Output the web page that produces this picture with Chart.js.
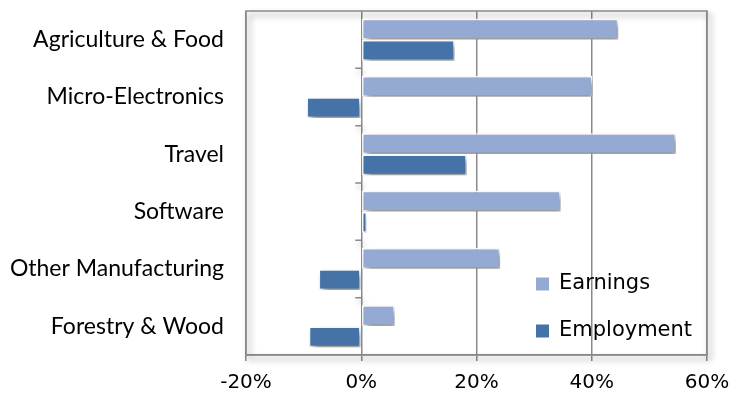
<!DOCTYPE html>
<html>
<head>
<meta charset="utf-8">
<script src="https://cdn.jsdelivr.net/npm/chart.js@4"></script>
<style>
  html, body { margin: 0; padding: 0; background: #fff; }
  #wrap { width: 732px; height: 398px; }
</style>
</head>
<body>
<div id="wrap"><canvas id="growthChart" width="732" height="398"></canvas></div>
<script>
const sectors = ["Agriculture & Food", "Micro-Electronics", "Travel", "Software", "Other Manufacturing", "Forestry & Wood"];
const earnings = [44.6, 40.1, 54.6, 34.6, 24.1, 5.8];
const employment = [16.2, -9.5, 18.3, 1.0, -7.4, -9.1];
const xTicks = [-20, 0, 20, 40, 60];

const axisGray = "#8a8a8a";

// drop shadow behind the bars
const barShadow = {
  id: "barShadow",
  beforeDatasetsDraw(chart) {
    const ctx = chart.ctx;
    ctx.save();
    ctx.shadowColor = "rgba(0,0,0,0.45)";
    ctx.shadowBlur = 6;
    ctx.shadowOffsetX = 3;
    ctx.shadowOffsetY = 4;
  },
  afterDatasetsDraw(chart) {
    chart.ctx.restore();
  }
};

// plot frame, category ticks on the zero line, and the legend
const frame = {
  id: "frame",
  beforeDatasetsDraw(chart) {
    const { ctx, chartArea: a, scales } = chart;
    ctx.save();
    ctx.strokeStyle = axisGray;
    ctx.lineWidth = 1.5;
    ctx.strokeRect(a.left, a.top, a.right - a.left, a.bottom - a.top);
    const x0 = scales.x.getPixelForValue(0);
    ctx.beginPath();
    for (let i = 1; i < sectors.length; i++) {
      const y = (scales.y.getPixelForValue(i - 1) + scales.y.getPixelForValue(i)) / 2;
      ctx.moveTo(x0 - 6, y);
      ctx.lineTo(x0, y);
    }
    ctx.stroke();
    ctx.restore();
  },
  afterDraw(chart) {
    const ctx = chart.ctx;
    ctx.save();
    ctx.font = "21px 'DejaVu Sans'";
    ctx.textBaseline = "middle";
    chart.data.datasets.forEach((ds, i) => {
      const cy = 284 + i * 47;
      ctx.fillStyle = ds.backgroundColor;
      ctx.fillRect(536, cy - 6.5, 13, 13);
      ctx.fillStyle = "#000";
      ctx.fillText(ds.label, 559, cy);
    });
    ctx.restore();
  }
};

new Chart(document.getElementById("growthChart"), {
  type: "bar",
  data: {
    labels: sectors,
    datasets: [
      {
        label: "Earnings",
        data: earnings,
        backgroundColor: "#94AAD2",
        borderColor: "#ffffff",
        borderWidth: 1.5,
        borderSkipped: false
      },
      {
        label: "Employment",
        data: employment,
        backgroundColor: "#4572A7",
        borderColor: "#ffffff",
        borderWidth: 1.5,
        borderSkipped: false
      }
    ]
  },
  options: {
    indexAxis: "y",
    responsive: false,
    animation: false,
    layout: { padding: { top: 11, right: 25, left: 0, bottom: 0 } },
    datasets: { bar: { categoryPercentage: 0.74, barPercentage: 0.98 } },
    plugins: {
      legend: { display: false },
      tooltip: { enabled: false }
    },
    scales: {
      x: {
        min: -20,
        max: 60,
        afterBuildTicks(scale) {
          scale.ticks = xTicks.map(v => ({ value: v }));
        },
        afterFit(scale) {
          scale.height = 43;
          scale.paddingLeft = 0;
          scale.paddingRight = 0;
        },
        grid: { color: axisGray, lineWidth: 1.5, tickLength: 6 },
        border: { display: true, color: axisGray, width: 1.5 },
        ticks: {
          padding: 10,
          color: "#000",
          font: { family: "'DejaVu Sans'", size: 20 },
          callback: v => v + "%"
        }
      },
      y: {
        afterFit(scale) {
          scale.width = 246;
          scale.paddingTop = 0;
          scale.paddingBottom = 0;
        },
        grid: { display: false },
        border: { display: false },
        ticks: {
          padding: 14,
          color: "#000",
          font: { family: "Lato", size: 23 }
        }
      }
    }
  },
  plugins: [barShadow, frame]
});
</script>
</body>
</html>
